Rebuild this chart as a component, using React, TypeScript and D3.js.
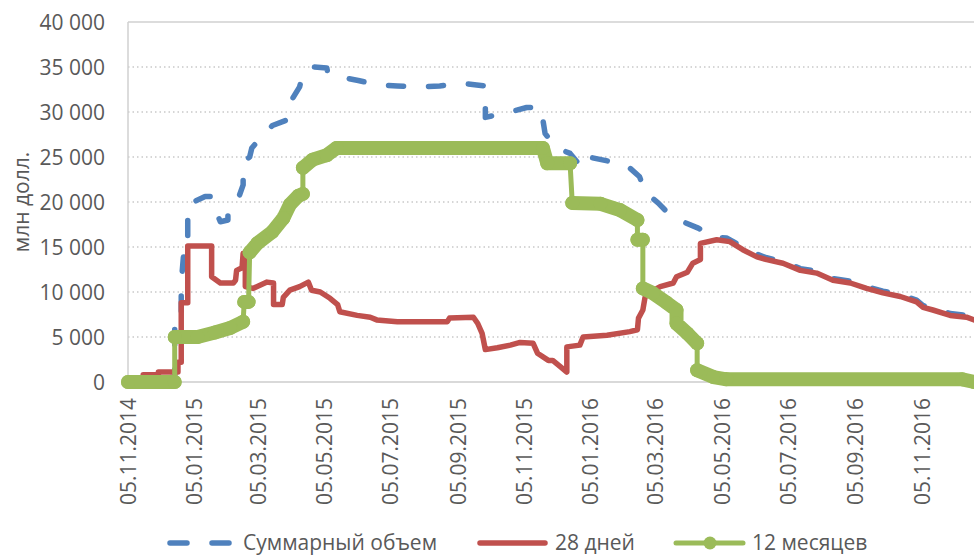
import React from 'react';
import * as d3 from 'd3';

// Day offsets are counted from 05.11.2014
const startDate = new Date(2014, 10, 5);
const axisEndDate = new Date(2016, 10, 5);

const xTickLabels = [
  '05.11.2014', '05.01.2015', '05.03.2015', '05.05.2015', '05.07.2015', '05.09.2015',
  '05.11.2015', '05.01.2016', '05.03.2016', '05.05.2016', '05.07.2016', '05.09.2016', '05.11.2016',
];
const yTicks = [0, 5000, 10000, 15000, 20000, 25000, 30000, 35000, 40000];

const seriesNames = ['Суммарный объем', '28 дней', '12 месяцев'];

// Суммарный объем
const totalDays = [0, 34, 39, 43, 43, 49, 49, 51, 55, 55, 71, 77, 78, 85, 92, 92, 101, 106, 106, 112, 114, 124, 133, 146, 149, 158, 161, 170, 183, 184, 195, 212, 230, 248, 269, 287, 306, 321, 329, 329, 352, 367, 377, 379, 382, 384, 395, 407, 418, 424, 444, 459, 471, 476, 488, 497, 511, 525, 539, 551, 566, 579, 588, 603, 619, 634, 649, 665, 680, 695, 711, 726, 732, 741, 757, 772, 779];
const totalValues = [0, 300, 500, 500, 6700, 6700, 11000, 13900, 13900, 19700, 20600, 20600, 19900, 17800, 18000, 18800, 20200, 21900, 24400, 25000, 26000, 27400, 28500, 29100, 31000, 32800, 34300, 35000, 34900, 34300, 33900, 33500, 33000, 32900, 32800, 32900, 33200, 33000, 32900, 29400, 30000, 30500, 30500, 29100, 29100, 27600, 26000, 25400, 23800, 25000, 24500, 24100, 22800, 21100, 19900, 18800, 17800, 17100, 16100, 16000, 15000, 14200, 13800, 13400, 12600, 12300, 11500, 11200, 10600, 10100, 9700, 9100, 8500, 8200, 7600, 7400, 7100];

// 28 дней
const days28Days = [0, 14, 14, 28, 28, 46, 46, 49, 49, 55, 55, 77, 77, 85, 97, 99, 100, 105, 106, 108, 108, 115, 128, 134, 134, 142, 143, 149, 158, 166, 169, 177, 186, 193, 195, 211, 223, 229, 248, 294, 296, 318, 322, 326, 329, 340, 352, 361, 373, 377, 387, 391, 398, 404, 404, 416, 419, 441, 462, 469, 470, 474, 476, 481, 490, 502, 505, 515, 520, 527, 527, 542, 554, 566, 579, 588, 603, 619, 634, 649, 665, 680, 695, 711, 726, 732, 741, 757, 772, 779];
const values28Days = [0, 0, 800, 800, 1100, 1100, 2200, 2200, 8800, 8800, 15100, 15100, 11700, 11000, 11000, 11300, 12400, 12700, 14300, 14300, 10600, 10400, 11100, 11000, 8600, 8600, 9400, 10200, 10600, 11100, 10200, 10000, 9300, 8600, 7800, 7400, 7200, 6900, 6700, 6700, 7100, 7200, 6500, 5400, 3600, 3800, 4100, 4400, 4300, 3200, 2400, 2400, 1700, 1100, 3900, 4100, 5000, 5200, 5600, 5800, 7100, 8000, 9400, 10000, 10600, 11000, 11700, 12200, 13200, 13600, 15400, 15800, 15600, 14700, 13900, 13600, 13200, 12400, 12100, 11300, 11000, 10400, 9900, 9500, 8900, 8300, 8000, 7400, 7200, 6900];

// 12 месяцев
const days12Months = [0, 43, 43, 64, 80, 94, 106, 107, 111, 112, 119, 133, 143, 149, 157, 161, 161, 170, 183, 192, 382, 386, 407, 409, 435, 453, 469, 469, 474, 474, 483, 496, 505, 505, 515, 524, 524, 539, 551, 768, 779];
const values12Months = [0, 0, 5000, 5000, 5500, 6000, 6700, 8900, 8900, 14400, 15400, 16700, 18200, 19700, 20700, 20900, 23800, 24700, 25200, 26000, 26000, 24300, 24300, 19900, 19800, 19100, 18000, 15800, 15800, 10400, 9900, 8800, 8000, 6500, 5400, 4300, 1300, 550, 300, 300, 0];

const BLUE = '#4F81BD';
const RED = '#C0504D';
const GREEN = '#9BBB59';
const TEXT = '#595959';
const FONT = '"Open Sans", "Noto Sans", sans-serif';

export default function App() {
  const W = 974;
  const H = 556;
  const x = d3.scaleTime().domain([startDate, axisEndDate]).range([128, 922]);
  const y = d3.scaleLinear().domain([0, 40000]).range([382, 22]);
  const toDate = (d: number) => d3.timeDay.offset(startDate, d);

  const pts = (ds: number[], vs: number[]) => ds.map((d, i) => [x(toDate(d)), y(vs[i])] as [number, number]);
  const line = d3.line<[number, number]>().x((p) => p[0]).y((p) => p[1]);

  const bluePts = pts(totalDays, totalValues);
  const redPts = pts(days28Days, values28Days);
  const greenPts = pts(days12Months, values12Months);

  // thick band where markers overlap (everything except large steep jumps)
  let band = '';
  for (let i = 1; i < greenPts.length; i++) {
    const [x0, y0] = greenPts[i - 1];
    const [x1, y1] = greenPts[i];
    const dy = Math.abs(y1 - y0);
    const dx = Math.abs(x1 - x0);
    if (!(dy > 16 && dy > 3 * dx)) {
      band += `M${x0},${y0}L${x1},${y1}`;
    }
  }

  const tickDates = xTickLabels.map((s) => {
    const [dd, mm, yy] = s.split('.').map(Number);
    return new Date(yy, mm - 1, dd);
  });
  const fmt = (v: number) => d3.format(',')(v).replace(/,/g, ' ');

  return (
    <svg width={W} height={H} style={{ position: 'absolute', left: 0, top: 0, fontFamily: FONT }}>
      <rect x={0} y={0} width={W} height={H} fill="#fff" />
      {/* gridlines */}
      {yTicks.filter((t) => t > 0 && t < 40000).map((t) => (
        <line key={t} x1={128} x2={W} y1={y(t)} y2={y(t)} stroke="#c9c9c9" strokeWidth={1.5} strokeDasharray="1.5 3" />
      ))}
      {/* plot border */}
      <line x1={128} x2={W} y1={22} y2={22} stroke="#d0d0d0" strokeWidth={1.5} />
      <line x1={128} x2={128} y1={22} y2={382} stroke="#d0d0d0" strokeWidth={1.5} />
      <line x1={128} x2={W} y1={382} y2={382} stroke="#d9d9d9" strokeWidth={2} />

      {/* y tick labels */}
      {yTicks.map((t) => (
        <text key={t} x={105} y={y(t)} dy="0.36em" textAnchor="end" fontSize={21} fill={TEXT}>{fmt(t)}</text>
      ))}
      <text transform={`translate(22,202) rotate(-90)`} textAnchor="middle" dy="0.35em" fontSize={21} fill={TEXT}>млн долл.</text>

      {/* x tick labels */}
      {tickDates.map((d, i) => (
        <text key={i} transform={`translate(${x(d)},398) rotate(-90)`} textAnchor="end" dy="0.36em" fontSize={21} fill={TEXT}>{xTickLabels[i]}</text>
      ))}

      {/* series */}
      <path d={line(bluePts) || ''} fill="none" stroke={BLUE} strokeWidth={5.5} strokeDasharray="15 25" strokeLinecap="round" strokeLinejoin="round" />
      <path d={line(redPts) || ''} fill="none" stroke={RED} strokeWidth={5.5} strokeLinejoin="round" strokeLinecap="round" />
      <path d={line(greenPts) || ''} fill="none" stroke={GREEN} strokeWidth={5} strokeLinejoin="round" />
      <path d={band} fill="none" stroke={GREEN} strokeWidth={14} strokeLinecap="round" strokeLinejoin="round" />
      {greenPts.map((p, i) => (
        <circle key={i} cx={p[0]} cy={p[1]} r={7} fill={GREEN} />
      ))}

      {/* legend */}
      <g>
        <line x1={170} x2={229} y1={543} y2={543} stroke={BLUE} strokeWidth={5.5} strokeDasharray="17 25" strokeLinecap="round" />
        <text x={243} y={550} fontSize={21} fill={TEXT}>{seriesNames[0]}</text>
        <line x1={480} x2={545} y1={543} y2={543} stroke={RED} strokeWidth={5.5} strokeLinecap="round" />
        <text x={555} y={550} fontSize={21} fill={TEXT}>{seriesNames[1]}</text>
        <line x1={676} x2={743} y1={543} y2={543} stroke={GREEN} strokeWidth={5} strokeLinecap="round" />
        <circle cx={710} cy={543} r={6.5} fill={GREEN} />
        <text x={752} y={550} fontSize={21} fill={TEXT}>{seriesNames[2]}</text>
      </g>
    </svg>
  );
}
